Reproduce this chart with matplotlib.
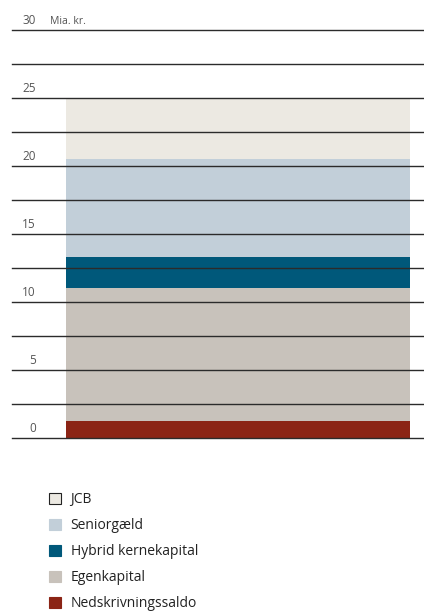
import matplotlib
matplotlib.use("Agg")
import matplotlib.pyplot as plt
from matplotlib.patches import Patch
from matplotlib.transforms import offset_copy

plt.rcParams['font.family'] = ['Open Sans', 'DejaVu Sans']

# stacked components, bottom to top (mia. kr.)
labels = ['Nedskrivningssaldo', 'Egenkapital', 'Hybrid kernekapital', 'Seniorgæld', 'JCB']
values = [1.25, 9.75, 2.3, 7.2, 4.5]
colors = ['#8b2415', '#c8c2bb', '#00587a', '#c2cfd9', '#ece9e2']

yticks = [0, 5, 10, 15, 20, 25, 30]
gridlines = [i * 2.5 for i in range(13)]

fig = plt.figure(figsize=(4.24, 6.13), dpi=100)
ax = fig.add_axes([12 / 424, 1 - 438 / 613, 412 / 424, 408 / 613])

bottom = 0
for lab, v, c in zip(labels, values, colors):
    ax.bar(0, v, width=1, bottom=bottom, color=c, zorder=2, label=lab)
    bottom += v

for g in gridlines:
    ax.axhline(g, color='#2b2b2b', lw=1.0, zorder=3, clip_on=False)

ax.set_xlim(-0.5 - 54 / 344, 0.5 + 14 / 344)
ax.set_ylim(0, 30)
ax.axis('off')

trans = offset_copy(ax.get_yaxis_transform(), fig=fig, y=2, units='points')
for t in yticks:
    ax.text(0.058, t, str(t), transform=trans, ha='right', va='bottom',
            fontsize=8.5, color='#555555')
ax.text(38 / 412, 30, 'Mia. kr.', transform=trans, ha='left', va='bottom',
        fontsize=7.5, color='#555555')

handles = [Patch(facecolor=c, edgecolor='#222222' if lab == 'JCB' else c, lw=0.8)
           for lab, c in zip(labels, colors)]
fig.legend(handles[::-1], labels[::-1], loc='upper left',
           bbox_to_anchor=(49 / 424, 1 - 492 / 613), frameon=False,
           fontsize=10, handlelength=0.85, handleheight=0.85,
           handletextpad=0.7, labelspacing=0.8, borderpad=0,
           borderaxespad=0, labelcolor='#222222')

fig.savefig('out.png', dpi=100)
